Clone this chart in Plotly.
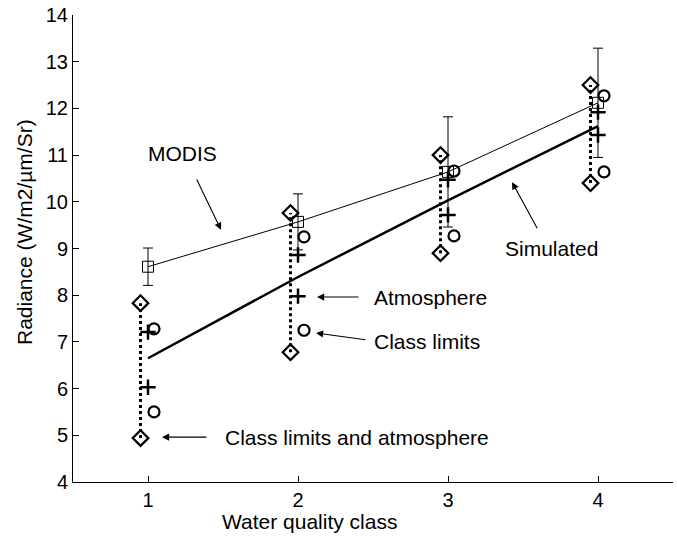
import plotly.graph_objects as go

# ---- data ----
classes = [1, 2, 3, 4]
modis = [8.61, 9.57, 10.64, 12.12]
modis_err = [0.40, 0.60, 1.18, 1.17]
simulated = [6.65, 8.39, 10.03, 11.62]
limits_atm_upper = [7.83, 9.76, 11.00, 12.50]
limits_atm_lower = [4.94, 6.78, 8.90, 10.40]
atm_upper = [7.21, 8.86, 10.47, 11.92]
atm_lower = [6.03, 7.98, 9.72, 11.43]
limits_upper = [7.28, 9.25, 10.66, 12.27]
limits_lower = [5.50, 7.25, 9.27, 10.64]
x_ticks = [1, 2, 3, 4]
y_ticks = [4, 5, 6, 7, 8, 9, 10, 11, 12, 13, 14]

FONT = "Liberation Sans, Arial, Helvetica, sans-serif"
dx_diamond = -0.05
dx_circle = 0.04

L, R, T, B = 73, 4, 15, 56
W, H = 677, 538
PW, PH = W - L - R, H - T - B

fig = go.Figure()

# dotted vertical lines linking diamonds
xd, yd = [], []
for c, lo, hi in zip(classes, limits_atm_lower, limits_atm_upper):
    xd += [c + dx_diamond, c + dx_diamond, None]
    yd += [lo, hi, None]
fig.add_trace(go.Scatter(x=xd, y=yd, mode="lines",
                         line=dict(color="black", width=3, dash="dot"),
                         hoverinfo="skip", showlegend=False))

# simulated
fig.add_trace(go.Scatter(x=classes, y=simulated, mode="lines",
                         line=dict(color="black", width=2.5),
                         name="Simulated", showlegend=False))

# MODIS with error bars
fig.add_trace(go.Scatter(x=classes, y=modis, mode="lines+markers",
                         line=dict(color="black", width=1),
                         marker=dict(symbol="square-open", size=11, color="black",
                                     line=dict(width=1, color="black")),
                         error_y=dict(type="data", array=modis_err, visible=True,
                                      color="black", thickness=1, width=5),
                         name="MODIS", showlegend=False))

# class limits and atmosphere (diamonds)
for ys in (limits_atm_upper, limits_atm_lower):
    fig.add_trace(go.Scatter(x=[c + dx_diamond for c in classes], y=ys, mode="markers",
                             marker=dict(symbol="diamond-open", size=12, color="black",
                                         line=dict(width=2.2, color="black")),
                             showlegend=False))

# atmosphere (plus)
for ys in (atm_upper, atm_lower):
    fig.add_trace(go.Scatter(x=classes, y=ys, mode="markers",
                             marker=dict(symbol="cross-thin-open", size=11, color="black",
                                         line=dict(width=2.5, color="black")),
                             showlegend=False))

# class limits (circles)
for ys in (limits_upper, limits_lower):
    fig.add_trace(go.Scatter(x=[c + dx_circle for c in classes], y=ys, mode="markers",
                             marker=dict(symbol="circle-open", size=11, color="black",
                                         line=dict(width=2.2, color="black")),
                             showlegend=False))

# ---- annotations: arrows (no text) + labels ----
arrows = [
    # (head_x, head_y, tail_x, tail_y)
    (1.487, 9.40, 1.32, 10.51),    # MODIS
    (3.427, 10.42, 3.60, 9.40),    # Simulated
    (2.127, 7.96, 2.413, 7.96),    # Atmosphere
    (2.12, 7.19, 2.46, 7.04),      # Class limits
    (1.093, 4.96, 1.40, 4.96),     # Class limits and atmosphere
]
for hx, hy, tx, ty in arrows:
    fig.add_annotation(x=hx, y=hy, ax=tx, ay=ty, xref="x", yref="y",
                       axref="x", ayref="y", text="", showarrow=True,
                       arrowhead=2, arrowsize=1.3, arrowwidth=1.1,
                       arrowcolor="black")

labels = [
    ("MODIS", 1.227, 11.045, "center"),
    ("Simulated", 3.693, 9.01, "center"),
    ("Atmosphere", 2.493, 7.96, "left"),
    ("Class limits", 2.493, 7.00, "left"),
    ("Class limits and atmosphere", 1.50, 4.96, "left"),
]
for t, x, y, anc in labels:
    fig.add_annotation(x=x, y=y, xref="x", yref="y", text=t, showarrow=False,
                       xanchor=anc, yanchor="middle",
                       font=dict(family=FONT, size=21, color="black"))

# axis titles as annotations (pixel-placed)
fig.add_annotation(x=(25 - L) / PW, y=(H - B - 232) / PH, xref="paper", yref="paper",
                   text="Radiance (W/m2/µm/Sr)", showarrow=False, textangle=-90,
                   xanchor="center", yanchor="middle",
                   font=dict(family=FONT, size=21, color="black"))
fig.add_annotation(x=(309 - L) / PW, y=-(521 - (H - B)) / PH, xref="paper", yref="paper",
                   text="Water quality class", showarrow=False,
                   xanchor="center", yanchor="middle",
                   font=dict(family=FONT, size=21, color="black"))

fig.update_layout(
    width=W, height=H,
    margin=dict(l=L, r=R, t=T, b=B, autoexpand=False),
    paper_bgcolor="white", plot_bgcolor="white",
    font=dict(family=FONT, size=20, color="black"),
    showlegend=False,
    xaxis=dict(range=[0.5, 4.5], tickvals=x_ticks, ticks="inside", ticklen=6,
               tickcolor="black", showline=True, linecolor="black", linewidth=1,
               showgrid=False, zeroline=False, mirror=False, automargin=False),
    yaxis=dict(range=[4, 14], tickvals=y_ticks, ticks="inside", ticklen=6,
               tickcolor="black", showline=True, linecolor="black", linewidth=1,
               showgrid=False, zeroline=False, mirror=False, automargin=False),
)

fig.write_html("out.html", config={"displayModeBar": False},
               post_script="document.body.style.margin='0';document.body.style.padding='0';")
